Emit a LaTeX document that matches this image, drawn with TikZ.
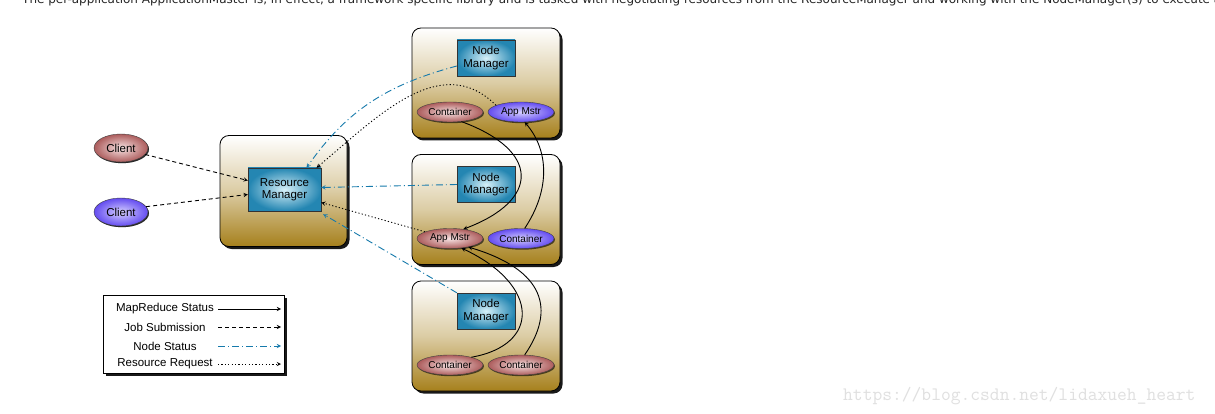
\documentclass[tikz,border=0pt]{standalone}
\usepackage{fontspec}
\setmainfont{Liberation Sans}
\newfontfamily\pagefont{DejaVu Sans}
\usetikzlibrary{shapes.geometric,shadows,arrows}
\definecolor{hostgold}{RGB}{166,128,28}
\definecolor{managerblue}{RGB}{36,134,178}
\definecolor{managerlight}{RGB}{214,240,248}
\definecolor{containerred}{RGB}{172,92,92}
\definecolor{containerlight}{RGB}{248,228,228}
\definecolor{mastrblue}{RGB}{100,76,240}
\definecolor{mastrlight}{RGB}{214,208,255}
\definecolor{statusblue}{RGB}{22,122,172}
\begin{document}
\begin{tikzpicture}
[x=1pt,y=-1pt,
  hostdecorate/.style={shape=rectangle,rounded corners=9pt,draw=black,thick,
    minimum width=148pt,minimum height=110pt,
    top color=white,bottom color=hostgold,middle color=hostgold!40!white,
    drop shadow={shadow xshift=2.5pt,shadow yshift=-2.5pt,fill=black,opacity=0.9}},
  managerdecorate/.style={shape=rectangle,draw=black!80,inner sep=1pt,
    minimum width=58pt,minimum height=36pt,align=center,
    inner color=managerlight,outer color=managerblue,
    font=\fontsize{11.5}{12.5}\selectfont},
  ellipsedecorate/.style={shape=ellipse,draw=black!75,inner sep=0pt,
    minimum width=66pt,minimum height=20pt,font=\fontsize{10}{11}\selectfont,
    drop shadow={shadow xshift=1pt,shadow yshift=-1.2pt,fill=black,opacity=0.6}},
  containerdecorate/.style={ellipsedecorate,inner color=containerlight,outer color=containerred},
  mastrdecorate/.style={ellipsedecorate,inner color=mastrlight,outer color=mastrblue},
  clientdecorate/.style={ellipsedecorate,minimum width=54pt,minimum height=28pt,
    font=\fontsize{11.5}{12.5}\selectfont},
  legenddecorate/.style={shape=rectangle,draw=black,thick,fill=white,
    minimum width=181pt,minimum height=78pt,
    drop shadow={shadow xshift=2.5pt,shadow yshift=-2.5pt,fill=black,opacity=0.9}},
  keydecorate/.style={inner sep=0pt,font=\fontsize{11.5}{12}\selectfont},
  arrowdecorate/.style={->,>=stealth,line width=0.9pt},
  mapreducedecorate/.style={arrowdecorate},
  jobdecorate/.style={arrowdecorate,dash pattern=on 4pt off 3pt},
  nodestatusdecorate/.style={arrowdecorate,statusblue,dash pattern=on 7pt off 3pt on 1pt off 3pt},
  requestdecorate/.style={arrowdecorate,dash pattern=on 1.2pt off 2.2pt}]
\path[use as bounding box,fill=white] (0,0) rectangle (1215,414);
%% page text
\node (intro) [anchor=base west,inner sep=0pt,text=black!85,
  font=\pagefont\fontsize{12}{12}\selectfont] at (22,4)
  {The per-application ApplicationMaster is, in effect, a framework specific library and is tasked with negotiating resources from the ResourceManager and working with the NodeManager(s) to execute a};
\node (mark) [anchor=base west,inner sep=0pt,text=black!12,
  font=\ttfamily\fontsize{19}{19}\selectfont] at (843,400) {https://blog.csdn.net/lidaxueh\_heart};
%% nodes or vertices
\node (rmbox) at (283.5,191) [hostdecorate,minimum width=127pt,minimum height=111pt] {};
\node (rm) at (284.5,189.5) [managerdecorate,minimum width=73pt,minimum height=43pt] {Resource\\Manager};
\foreach \clientname/\y/\shade in {c1/148/containerdecorate, c2/212/mastrdecorate} {
  \node (\clientname) at (121,\y) [\shade,clientdecorate] {Client};
}
\foreach \hostname/\y in {h1/83, h2/209.5, h3/336} {
  \node (\hostname) at (486,\y) [hostdecorate] {};
}
\foreach \nmname/\y in {n1/58, n2/184.5, n3/311} {
  \node (\nmname) at (486,\y) [managerdecorate] {Node\\Manager};
}
\foreach \ename/\x/\y/\shade/\etext in {con1/450/112/containerdecorate/Container,
  am1/521/112/mastrdecorate/App Mstr, am2/450/238.5/containerdecorate/App Mstr,
  con2/521/238.5/mastrdecorate/Container, con3a/450/365/containerdecorate/Container,
  con3b/521/365/containerdecorate/Container} {
  \node (\ename) at (\x,\y) [\shade] {\etext};
}
%% edges or lines
\draw[jobdecorate] (c1.-15) -- ([yshift=9pt]rm.west);
\draw[jobdecorate] (c2.12) -- ([yshift=-5pt]rm.west);
\draw[nodestatusdecorate] ([yshift=-8pt]n1.west) to[out=195,in=55] ([xshift=22pt]rm.north);
\draw[requestdecorate] (am1.165) to[out=135,in=40,looseness=1.05] ([xshift=32pt]rm.north);
\draw[nodestatusdecorate] (n2.west) -- ([yshift=2pt]rm.east);
\draw[requestdecorate] (am2.165) -- ([yshift=-13pt]rm.east);
\draw[nodestatusdecorate] (n3.north west) -- ([xshift=2pt,yshift=-3pt]rm.south east);
\draw[mapreducedecorate] (con1.-40) .. controls +(79,29) and +(77,-29) .. (am2.35);
\draw[mapreducedecorate] (con2.70) .. controls +(26,-39) and +(24,28) .. (am1.-70);
\draw[mapreducedecorate] (con3a.20) .. controls +(69,-12) and +(79,37) .. (am2.-40);
\draw[mapreducedecorate] (con3b.70) .. controls +(31,-45) and +(77,23) .. (am2.-25);
%% legend
\node (legend) at (193.5,334) [legenddecorate] {};
\foreach \i/\y/\keytext/\keystyle in {1/309/MapReduce Status/mapreducedecorate,
  2/327/Job Submission/jobdecorate, 3/346/Node Status/nodestatusdecorate,
  4/364/Resource Request/requestdecorate} {
  \node (key\i) at (165,\y) [keydecorate] {\keytext};
  \coordinate (keystart\i) at (218,\y);
  \coordinate (keyend\i) at (281,\y);
  \draw[\keystyle] (keystart\i) -- (keyend\i);
}
\end{tikzpicture}
\end{document}
